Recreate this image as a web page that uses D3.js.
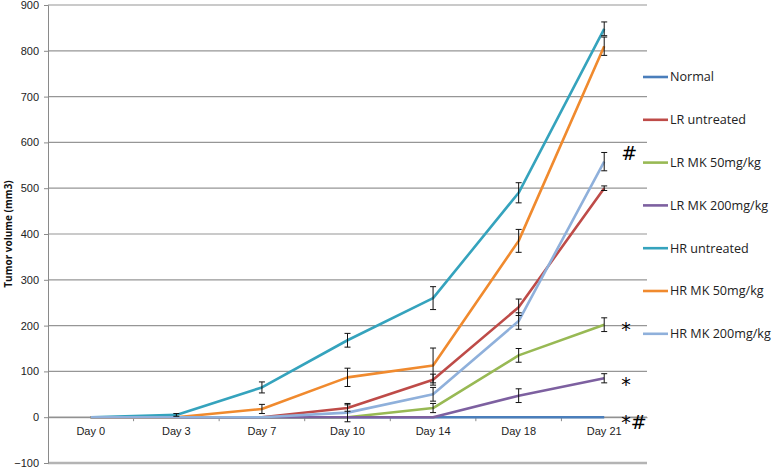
<!DOCTYPE html>
<html>
<head>
<meta charset="utf-8">
<script src="https://cdnjs.cloudflare.com/ajax/libs/d3/7.8.5/d3.min.js"></script>
<style>
  body { margin: 0; background: #fff; }
  svg { display: block; font-family: "Open Sans", "Noto Sans", sans-serif; }
</style>
</head>
<body>
<div class="chart"></div>
<script>
const width = 778;
const height = 468;

// categories + ticks
const days = ["Day 0", "Day 3", "Day 7", "Day 10", "Day 14", "Day 18", "Day 21"];
const yTicks = [-100, 0, 100, 200, 300, 400, 500, 600, 700, 800, 900];

// series (mean tumour volume) and error bars
const groups = ["Normal", "LR untreated", "LR MK 50mg/kg", "LR MK 200mg/kg",
                "HR untreated", "HR MK 50mg/kg", "HR MK 200mg/kg"];
const colors = ["#4a7ebb", "#be4b48", "#98b954", "#7d60a0", "#35a3bd", "#f08a2e", "#8fb0db"];

const normal      = [0, 0, 0, 0, 0, 0, 0];
const lrUntreated = [0, 0, 0, 20, 82, 240, 500];
const lrMk50      = [0, 0, 0, 0, 20, 135, 202];
const lrMk200     = [0, 0, 0, 0, 0, 47, 85];
const hrUntreated = [0, 5, 65, 168, 260, 490, 848];
const hrMk50      = [0, 0, 18, 87, 113, 385, 810];
const hrMk200     = [0, 0, 0, 10, 50, 210, 558];

const normalErr      = [0, 0, 0, 0, 0, 0, 0];
const lrUntreatedErr = [0, 0, 0, 7, 12, 18, 5];
const lrMk50Err      = [0, 0, 0, 0, 10, 15, 15];
const lrMk200Err     = [0, 0, 0, 0, 0, 15, 10];
const hrUntreatedErr = [0, 3, 12, 15, 25, 22, 15];
const hrMk50Err      = [0, 0, 10, 20, 38, 25, 20];
const hrMk200Err     = [0, 0, 0, 20, 15, 18, 20];

const values = [normal, lrUntreated, lrMk50, lrMk200, hrUntreated, hrMk50, hrMk200];
const errors = [normalErr, lrUntreatedErr, lrMk50Err, lrMk200Err, hrUntreatedErr, hrMk50Err, hrMk200Err];

// significance marks next to Day 21
const marks = [
  { text: "#",  value: 575 },
  { text: "*",  value: 190 },
  { text: "*",  value: 70 },
  { text: "*#", value: -12 }
];

const svg = d3.select(".chart").append("svg")
  .attr("width", width)
  .attr("height", height);

const x = d3.scaleBand().domain(days).range([48, 647]);
const y = d3.scaleLinear().domain([-100, 900]).range([463, 5]);

// gridlines
svg.append("g")
  .selectAll("line")
  .data(yTicks)
  .join("line")
  .attr("x1", 48).attr("x2", 647)
  .attr("y1", d => y(d)).attr("y2", d => y(d))
  .attr("stroke", d => d === -100 ? "#b4b4b4" : "#969696")
  .attr("stroke-width", d => d === -100 ? 2.5 : 1.2);

// y axis
const yAxis = svg.append("g")
  .attr("transform", "translate(48,0)")
  .call(d3.axisLeft(y).tickValues(yTicks).tickSize(4).tickPadding(5));
yAxis.select(".domain").attr("stroke", "#8a8a8a");
yAxis.selectAll(".tick line").attr("stroke", "#8a8a8a");
yAxis.selectAll("text").attr("font-size", 11).attr("fill", "#222");

// x axis sits on zero
const xAxis = svg.append("g")
  .attr("transform", `translate(0,${y(0)})`)
  .call(d3.axisBottom(x).tickSize(0).tickPadding(10));
xAxis.select(".domain").attr("stroke", "#8a8a8a");
xAxis.selectAll("text").attr("font-size", 11).attr("fill", "#222");
// category dividers
svg.append("g")
  .selectAll("line")
  .data(days.slice(1))
  .join("line")
  .attr("x1", d => x(d)).attr("x2", d => x(d))
  .attr("y1", y(0)).attr("y2", y(0) + 4)
  .attr("stroke", "#8a8a8a");

svg.append("text")
  .attr("transform", `translate(12,${y(400)}) rotate(-90)`)
  .attr("text-anchor", "middle")
  .attr("font-size", 10)
  .attr("font-weight", "bold")
  .attr("fill", "#111")
  .text("Tumor volume (mm3)");

const cx = d => x(d) + x.bandwidth() / 2;
const line = d3.line().x((d, i) => cx(days[i])).y(d => y(d));

// lines
groups.forEach((g, k) => {
  svg.append("path")
    .datum(values[k])
    .attr("d", line)
    .attr("fill", "none")
    .attr("stroke", colors[k])
    .attr("stroke-width", 2.6)
    .attr("stroke-linejoin", "round");
});

// error bars
groups.forEach((g, k) => {
  const eb = svg.append("g").attr("stroke", "#111").attr("stroke-width", 1);
  values[k].forEach((v, i) => {
    const e = errors[k][i];
    if (!e) return;
    const px = cx(days[i]);
    eb.append("line").attr("x1", px).attr("x2", px).attr("y1", y(v - e)).attr("y2", y(v + e));
    eb.append("line").attr("x1", px - 3).attr("x2", px + 3).attr("y1", y(v - e)).attr("y2", y(v - e));
    eb.append("line").attr("x1", px - 3).attr("x2", px + 3).attr("y1", y(v + e)).attr("y2", y(v + e));
  });
});

// significance marks
svg.append("g")
  .selectAll("text")
  .data(marks)
  .join("text")
  .attr("x", cx("Day 21") + 17)
  .attr("y", d => y(d.value) + 6)
  .attr("font-size", 19)
  .attr("font-family", "DejaVu Sans, sans-serif")
  .attr("fill", "#000")
  .text(d => d.text);

// legend
const legend = svg.append("g").attr("transform", "translate(643,77)");
const item = legend.selectAll("g")
  .data(groups)
  .join("g")
  .attr("transform", (d, i) => `translate(0,${i * 42.8})`);
item.append("line")
  .attr("x1", 0).attr("x2", 25)
  .attr("stroke", (d, i) => colors[i])
  .attr("stroke-width", 2.6);
item.append("text")
  .attr("x", 27)
  .attr("dy", "0.35em")
  .attr("font-size", 12.6)
  .attr("fill", "#222")
  .text(d => d);
</script>
</body>
</html>
